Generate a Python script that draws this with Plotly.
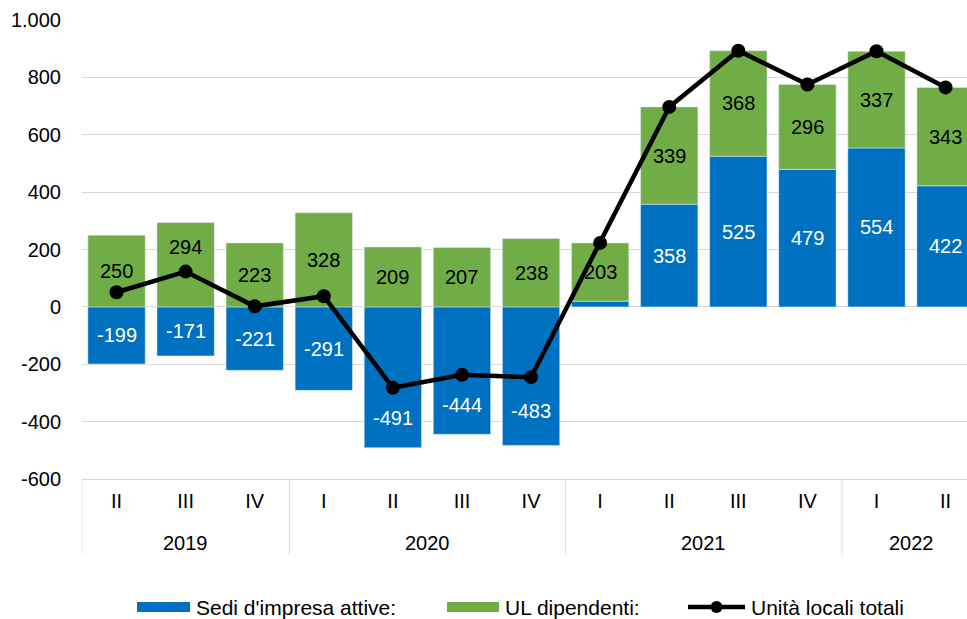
import plotly.graph_objects as go

years = ["2019", "2019", "2019", "2020", "2020", "2020", "2020",
         "2021", "2021", "2021", "2021", "2022", "2022"]
quarters = ["II", "III", "IV", "I", "II", "III", "IV",
            "I", "II", "III", "IV", "I", "II"]
sedi = [-199, -171, -221, -291, -491, -444, -483, 20, 358, 525, 479, 554, 422]
ul_dip = [250, 294, 223, 328, 209, 207, 238, 203, 339, 368, 296, 337, 343]
totali = [s + u for s, u in zip(sedi, ul_dip)]
y_ticks = [-600, -400, -200, 0, 200, 400, 600, 800, 1000]
series_names = ["Sedi d'impresa attive:", "UL dipendenti:", "Unità locali totali"]

y_ticktext = [f"{v:,}".replace(",", ".") for v in y_ticks]

BLUE = "#0070C0"
GREEN = "#70AD47"
GRID = "#d9d9d9"
FONT = "Liberation Sans, Arial, sans-serif"
FS = 20

xpos = list(range(len(quarters)))

fig = go.Figure()
fig.add_trace(go.Bar(x=xpos, y=sedi, name=series_names[0], marker_color=BLUE,
                     showlegend=False))
fig.add_trace(go.Bar(x=xpos, y=ul_dip, name=series_names[1], marker_color=GREEN,
                     showlegend=False))
fig.add_trace(go.Scatter(
    x=xpos, y=totali, name=series_names[2], mode="lines+markers",
    line=dict(color="black", width=4.5), marker=dict(color="black", size=14),
    showlegend=False, cliponaxis=False,
))


def label_y(base, value, line):
    """Centre of a segment; moved past the total line when it crosses the centre."""
    lo, hi = sorted((base, base + value))
    c = (lo + hi) / 2
    if lo <= line <= hi and abs(line - c) < 0.25 * (hi - lo):
        far = hi if value > 0 else lo
        return (line + far) / 2
    return c


annotations = []
for i in xpos:
    if abs(sedi[i]) >= 50:
        annotations.append(dict(
            x=i, y=label_y(0, sedi[i], totali[i]), xref="x", yref="y",
            text=str(sedi[i]), showarrow=False, yanchor="middle",
            font=dict(size=FS, family=FONT, color="white"),
        ))
    gbase = max(sedi[i], 0)
    annotations.append(dict(
        x=i, y=label_y(gbase, ul_dip[i], totali[i]), xref="x", yref="y",
        text=str(ul_dip[i]), showarrow=False, yanchor="middle",
        font=dict(size=FS, family=FONT, color="black"),
    ))

# year group labels and dividers (computed from the category lists)
groups = []
for i, yv in enumerate(years):
    if not groups or groups[-1][0] != yv:
        groups.append([yv, i, i])
    else:
        groups[-1][2] = i

shapes = []
for yv, a, b in groups:
    annotations.append(dict(
        x=(a + b) / 2, y=-0.14, xref="x", yref="paper", text=yv,
        showarrow=False, yanchor="middle", font=dict(size=FS, family=FONT, color="black"),
    ))
    shapes.append(dict(
        type="line", xref="x", yref="paper", x0=a - 0.5, x1=a - 0.5, y0=0, y1=-0.165,
        line=dict(color=GRID, width=1),
    ))

# manual legend (wide swatches as in the original)
PLOT_L, PLOT_W, PLOT_B, PLOT_H = 82, 885, 479, 459


def px_x(p):
    return (p - PLOT_L) / PLOT_W


def px_y(p):
    return (PLOT_B - p) / PLOT_H


leg_y = 607
leg_items = [
    ("rect", BLUE, 137, 190, series_names[0]),
    ("rect", GREEN, 447, 499, series_names[1]),
    ("line", "black", 688, 745, series_names[2]),
]
for kind, col, x0, x1, name in leg_items:
    if kind == "rect":
        shapes.append(dict(type="rect", xref="paper", yref="paper",
                           x0=px_x(x0), x1=px_x(x1), y0=px_y(leg_y - 5), y1=px_y(leg_y + 5),
                           fillcolor=col, line=dict(width=0)))
    else:
        shapes.append(dict(type="line", xref="paper", yref="paper",
                           x0=px_x(x0), x1=px_x(x1), y0=px_y(leg_y), y1=px_y(leg_y),
                           line=dict(color=col, width=4.5)))
        cx = (x0 + x1) / 2
        shapes.append(dict(type="circle", xref="paper", yref="paper",
                           x0=px_x(cx - 6), x1=px_x(cx + 6),
                           y0=px_y(leg_y + 6), y1=px_y(leg_y - 6),
                           fillcolor=col, line=dict(width=0)))
    annotations.append(dict(
        x=px_x(x1 + 4), y=px_y(leg_y), xref="paper", yref="paper", text=name,
        showarrow=False, xanchor="left", yanchor="middle",
        font=dict(size=21, family=FONT, color="black"),
    ))

fig.update_layout(
    width=967, height=619,
    barmode="relative", bargap=0.17,
    plot_bgcolor="white", paper_bgcolor="white",
    font=dict(family=FONT, size=FS, color="black"),
    margin=dict(l=PLOT_L, r=0, t=20, b=140),
    showlegend=False,
    annotations=annotations, shapes=shapes,
)
fig.update_yaxes(
    range=[-600, 1000], tickvals=y_ticks, ticktext=y_ticktext,
    showgrid=True, gridcolor=GRID, gridwidth=1,
    zeroline=True, zerolinecolor=GRID, zerolinewidth=1,
    ticks="outside", tickcolor="rgba(0,0,0,0)", ticklen=16,
    tickfont=dict(size=FS), showline=False, automargin=False,
)
# the original chart is cropped at the right edge, through the last bar
fig.update_xaxes(
    range=[-0.5, 12.31], tickvals=xpos, ticktext=quarters,
    showgrid=False, zeroline=False, showline=True, linecolor=GRID, linewidth=1,
    ticks="outside", tickcolor="rgba(0,0,0,0)", ticklen=4,
    tickfont=dict(size=FS), automargin=False,
)

fig.write_html(
    "out.html",
    config={"displayModeBar": False},
    post_script="document.body.style.margin='0';document.body.style.overflow='hidden';",
)
